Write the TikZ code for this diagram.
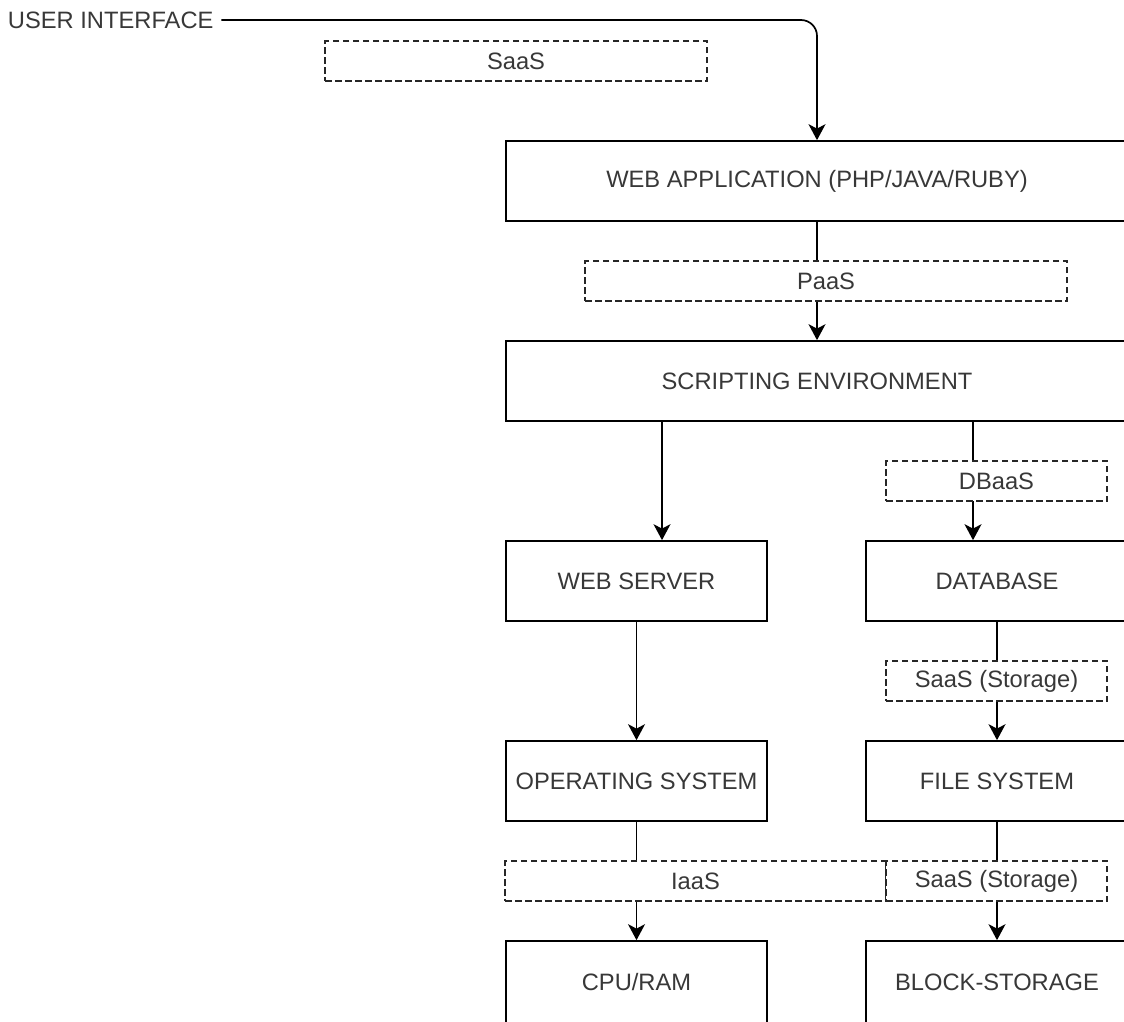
\documentclass[tikz,border=0pt]{standalone}
\usepackage{fontspec}
\setmainfont{Liberation Sans}
\usetikzlibrary{arrows.meta}
\begin{document}
\begin{tikzpicture}[x=1pt,y=-1pt,
  txt/.style={text=black!78, font=\fontsize{23.7}{28}\selectfont},
  block/.style={draw=black, line width=1.7pt, fill=white, txt, inner sep=0pt},
  tag/.style={draw=black!85, line width=1.7pt, dash pattern=on 6.5pt off 3.5pt,
              fill=white, txt, inner sep=0pt, minimum height=40pt},
  link/.style={draw=black, line width=1.7pt},
  flow/.style={link, -{Stealth[length=16pt,width=17pt,inset=4.5pt]}},
]
\useasboundingbox (0,0) rectangle (1124,1021);
\clip (0,0) rectangle (1124,1021);

% layers of the stack
\node[block, minimum width=622pt, minimum height=80pt] (webapp) at (817,181) {WEB APPLICATION (PHP/JAVA/RUBY)};
\node[block, minimum width=622pt, minimum height=80pt] (script) at (817,381) {SCRIPTING ENVIRONMENT};
\node[block, minimum width=261pt, minimum height=80pt] (websrv) at (636.5,581) {WEB SERVER};
\node[block, minimum width=262pt, minimum height=80pt] (db)     at (997,581)   {DATABASE};
\node[block, minimum width=261pt, minimum height=80pt] (os)     at (636.5,781) {OPERATING SYSTEM};
\node[block, minimum width=262pt, minimum height=80pt] (fs)     at (997,781)   {FILE SYSTEM};
\node[block, minimum width=261pt, minimum height=82pt] (cpu)    at (636.5,982) {CPU/RAM};
\node[block, minimum width=262pt, minimum height=82pt] (blk)    at (997,982)   {BLOCK-STORAGE};

\node[txt, anchor=west, inner xsep=0pt, outer xsep=8pt] (ui) at (0,20) {USER INTERFACE};

% connectors
\draw[flow, rounded corners=16pt] (ui.east) -| (webapp.north);
\draw[flow] (webapp.south) -- (script.north);
\draw[flow] ([xshift=25.5pt]websrv.north |- script.south) -- ([xshift=25.5pt]websrv.north);
\draw[flow] ([xshift=-24pt]db.north |- script.south) -- ([xshift=-24pt]db.north);
\draw[flow] (websrv.south) -- (os.north);
\draw[flow] (db.south) -- (fs.north);
\draw[flow] (os.south) -- (cpu.north);
\draw[flow] (fs.south) -- (blk.north);

% service labels sitting on the connectors
\node[tag, minimum width=382pt] (saas)  at (516,61)    {SaaS};
\node[tag, minimum width=482pt] (paas)  at (826,281)   {PaaS};
\node[tag, minimum width=221pt] (dbaas) at (996.5,481) {DBaaS};
\node[tag, minimum width=221pt] (st1)   at (996.5,681) {SaaS (Storage)};
\node[tag, minimum width=381pt] (iaas)  at (695.5,881) {IaaS};
\node[tag, minimum width=221pt] (st2)   at (996.5,881) {SaaS (Storage)};
\end{tikzpicture}
\end{document}
